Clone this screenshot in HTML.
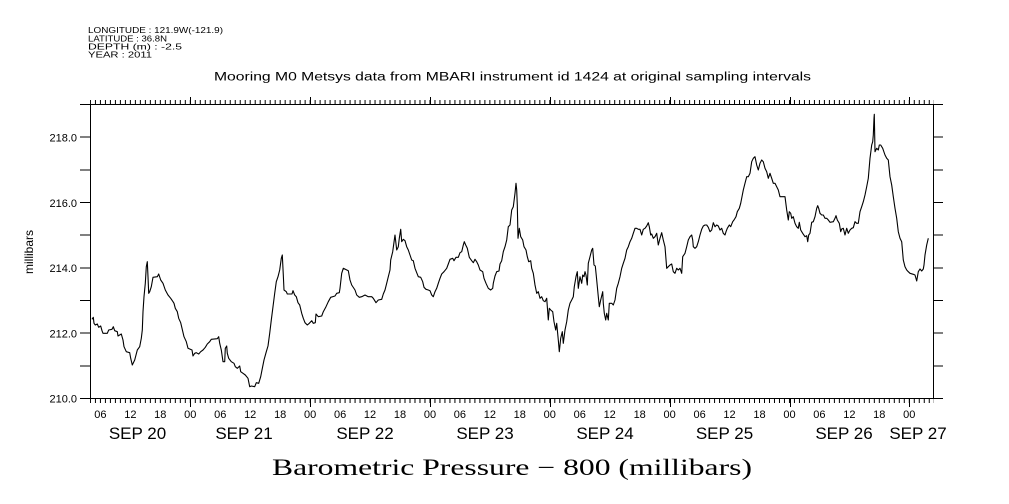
<!DOCTYPE html>
<html>
<head>
<meta charset="utf-8">
<style>
html,body{margin:0;padding:0;background:#fff;}
svg{display:block;}
text{font-family:"Liberation Sans",sans-serif;fill:#000;}
</style>
</head>
<body>
<svg width="1009" height="504" viewBox="0 0 1009 504" xmlns="http://www.w3.org/2000/svg">
<defs>
<pattern id="mt" patternUnits="userSpaceOnUse" x="89.94" y="0" width="4.993" height="504">
<rect x="0" y="0" width="1" height="504" fill="#000"/>
</pattern>
</defs>
<rect width="1009" height="504" fill="#fff"/>

<!-- header -->
<g font-size="8.5">
<text x="88" y="33" textLength="135" lengthAdjust="spacingAndGlyphs">LONGITUDE : 121.9W(-121.9)</text>
<text x="88" y="41.5" textLength="79" lengthAdjust="spacingAndGlyphs">LATITUDE : 36.8N</text>
<text x="88" y="49.5" textLength="94" lengthAdjust="spacingAndGlyphs">DEPTH (m) : -2.5</text>
<text x="88" y="57.5" textLength="64" lengthAdjust="spacingAndGlyphs">YEAR : 2011</text>
</g>
<text x="214" y="80.5" font-size="11.5" textLength="597" lengthAdjust="spacingAndGlyphs">Mooring M0 Metsys data from MBARI instrument id 1424 at original sampling intervals</text>

<!-- minor ticks -->
<rect x="90" y="100" width="844" height="4" fill="url(#mt)"/>
<rect x="90" y="399" width="844" height="4" fill="url(#mt)"/>

<g stroke="#000" stroke-width="1" fill="none" shape-rendering="crispEdges">
<!-- box -->
<path d="M80 104.5H933.5V398.5H80M90.5 104.5V398.5"/>
<!-- y ticks left and right -->
<path d="M80 398.5H90M80 365.8H90M80 333.2H90M80 300.5H90M80 267.8H90M80 235.2H90M80 202.5H90M80 169.8H90M80 137.2H90M80 104.5H90"/>
<path d="M933 398.5H943M933 365.8H943M933 333.2H943M933 300.5H943M933 267.8H943M933 235.2H943M933 202.5H943M933 169.8H943M933 137.2H943M933 104.5H943"/>
<!-- major day ticks -->
<path d="M190.5 97V104M310.5 97V104M430.5 97V104M550.5 97V104M670.5 97V104M790.5 97V104M909.5 97V104"/>
<path d="M190.5 398V407M310.5 398V407M430.5 398V407M550.5 398V407M670.5 398V407M790.5 398V407M909.5 398V407"/>
</g>

<!-- y labels -->
<g font-size="11" text-anchor="end">
<text x="77" y="141.5">218.0</text>
<text x="77" y="206.8">216.0</text>
<text x="77" y="272.1">214.0</text>
<text x="77" y="337.4">212.0</text>
<text x="77" y="402.7">210.0</text>
</g>
<text transform="translate(33,252) rotate(-90)" font-size="12" text-anchor="middle">millibars</text>

<!-- hour labels -->
<g font-size="11" text-anchor="middle">
<text x="100.4" y="418">06</text><text x="130.4" y="418">12</text><text x="160.3" y="418">18</text><text x="190.3" y="418">00</text>
<text x="220.3" y="418">06</text><text x="250.2" y="418">12</text><text x="280.2" y="418">18</text><text x="310.1" y="418">00</text>
<text x="340.1" y="418">06</text><text x="370.0" y="418">12</text><text x="400.0" y="418">18</text><text x="430.0" y="418">00</text>
<text x="459.9" y="418">06</text><text x="489.9" y="418">12</text><text x="519.8" y="418">18</text><text x="549.8" y="418">00</text>
<text x="579.8" y="418">06</text><text x="609.7" y="418">12</text><text x="639.7" y="418">18</text><text x="669.6" y="418">00</text>
<text x="699.6" y="418">06</text><text x="729.5" y="418">12</text><text x="759.5" y="418">18</text><text x="789.5" y="418">00</text>
<text x="819.4" y="418">06</text><text x="849.4" y="418">12</text><text x="879.3" y="418">18</text><text x="909.3" y="418">00</text>
</g>
<!-- day labels -->
<g font-size="17" text-anchor="middle">
<text x="137.5" y="439">SEP 20</text>
<text x="244" y="439">SEP 21</text>
<text x="365" y="439">SEP 22</text>
<text x="485" y="439">SEP 23</text>
<text x="605" y="439">SEP 24</text>
<text x="724.5" y="439">SEP 25</text>
<text x="844" y="439">SEP 26</text>
<text x="918" y="439">SEP 27</text>
</g>

<text x="272" y="475" font-size="23" textLength="480" lengthAdjust="spacingAndGlyphs" style="font-family:'Liberation Serif',serif">Barometric Pressure − 800 (millibars)</text>

<!-- data -->
<polyline fill="none" stroke="#000" stroke-width="1.1" stroke-linejoin="round" points="
92.0,319.3 93.3,317.3 94.0,323.3 95.3,325.0 97.3,324.0 98.7,327.3 100.7,326.0 102.0,330.7 103.0,333.3 107.3,333.3 108.7,330.0 112.0,329.3 113.3,326.7 114.7,330.7 117.3,331.7 118.0,336.0 121.3,334.0 123.0,340.0 124.0,346.7 126.3,351.7 129.7,352.7 130.7,358.3 132.3,365.0 134.7,360.0 137.3,350.0 139.7,346.7 141.3,338.3 142.3,330.0 143.0,311.7 144.0,296.7 145.3,283.3 146.3,266.7 147.3,261.7 148.0,276.7 148.7,293.3 149.7,291.7 151.3,286.7 153.0,277.3 157.3,276.7 158.7,274.0 160.7,280.0 163.0,283.3 165.3,290.0 168.0,295.0 170.7,298.3 173.0,301.7 174.0,303.3 175.3,308.3 177.3,311.7 178.7,318.3 180.7,322.7 182.0,328.3 184.0,336.7 186.3,341.7 188.0,348.3 192.0,350.0 193.0,356.0 194.7,353.3 196.3,352.7 198.7,354.0 200.7,351.7 203.0,350.0 205.3,347.3 207.3,344.0 209.7,341.7 211.3,339.3 217.3,338.7 218.7,336.7 219.7,343.3 221.3,350.0 223.0,361.7 224.7,361.7 225.3,348.3 226.7,346.0 227.3,353.3 228.7,358.3 231.3,361.7 234.0,363.3 235.3,366.7 237.3,368.3 239.7,366.0 240.7,371.7 243.0,373.3 245.3,375.0 248.0,378.3 249.7,386.7 251.3,386.0 254.7,386.7 256.3,382.7 258.7,383.3 260.7,376.7 262.0,370.0 264.0,360.0 266.3,351.7 268.0,346.0 269.7,333.3 271.3,320.0 273.0,306.7 274.7,293.3 276.3,281.7 278.0,276.7 279.7,270.0 281.3,258.3 282.3,255.0 283.3,275.0 284.0,290.0 286.3,291.7 287.3,294.0 292.0,294.0 293.0,290.7 294.7,295.0 296.3,296.7 298.0,302.7 299.7,305.0
301.7,313.3 303.3,318.3 305.0,322.7 307.3,325.0 309.3,323.3 311.7,320.7 313.3,323.3 315.3,322.7 316.0,314.0 318.3,316.7 321.7,316.0 323.3,311.7 326.0,306.7 328.3,301.7 330.7,297.3 335.0,296.0 336.7,293.3 339.3,292.7 340.0,288.3 341.7,273.3 343.3,268.3 348.3,270.7 350.0,280.0 351.7,285.0 355.0,290.0 356.7,295.0 359.3,297.3 361.7,296.7 365.0,295.0 368.3,296.7 371.7,296.7 373.3,298.3 376.0,302.7 378.3,300.0 381.7,299.3 383.3,294.0 385.0,290.0 386.7,283.3 388.3,276.7 390.0,270.0 390.7,260.0 392.7,251.7 394.3,240.0 395.0,235.0 396.7,250.0 398.3,246.7 399.3,238.3 400.7,229.3 401.7,241.7 403.3,239.3 405.0,240.7 406.7,246.7 408.3,250.0 410.0,255.0 411.7,260.0 413.3,260.7 415.0,268.3 416.7,272.7 418.3,276.7 420.7,277.3 422.7,281.7 424.0,287.3 426.0,289.3 428.3,290.0 430.0,290.7 431.7,295.0 433.3,296.7 435.0,291.7 436.7,288.3 438.3,283.3 440.0,278.3 441.7,274.0 444.0,271.7 446.7,268.3 448.3,264.0 450.0,259.3 452.7,258.3 454.0,260.7 456.0,257.3 458.3,257.3 460.0,252.7 461.7,251.7 463.3,245.0 464.3,241.7 465.7,245.0 467.3,248.3 469.3,257.3 471.7,260.7 473.3,262.7 475.0,259.3 476.7,261.7 478.3,265.0 480.0,270.0 482.7,271.7 484.0,278.3 486.0,283.3 488.3,288.3 490.7,290.0 492.7,288.3 493.3,283.3 495.0,276.0 496.7,271.7 499.0,271.0 500.0,264.0 501.7,260.7 503.3,251.7 505.0,246.7 506.7,240.0 508.3,226.7
510.0,225.0 511.7,210.0 513.3,206.7 515.0,193.3 516.0,183.3 516.7,190.0 517.3,205.0 518.0,238.3 519.3,228.3 520.7,236.7 522.7,240.0 524.0,246.7 526.0,250.0 527.3,256.7 528.7,261.7 530.7,260.7 531.7,268.3 533.3,273.3 535.0,285.0 536.7,293.3 538.3,291.7 540.0,298.3 541.7,296.7 543.3,300.7 545.0,301.7 546.7,298.3 548.3,320.0 549.3,308.3 550.7,310.0 552.7,311.7 554.0,321.7 555.7,330.0 556.7,323.3 558.3,340.0 559.3,351.7 560.7,338.3 562.3,331.7 563.3,343.3 565.0,330.0 566.7,321.7 568.3,310.0 570.0,303.3 571.7,300.0 573.3,296.7 574.3,286.7 576.0,276.7 577.3,271.7 578.3,288.3 580.0,276.7 581.7,283.3 582.7,275.0 584.0,276.7 585.0,271.7 586.0,275.0 587.3,285.0 588.3,263.3 590.0,256.7 591.7,250.0 592.7,248.3 594.0,265.0 595.3,266.0 596.7,280.0 598.3,296.7 599.3,306.7 600.7,300.0 602.7,291.7 603.3,303.3 604.3,313.3 605.7,320.0 606.7,313.3 608.3,320.0 609.3,303.3 611.7,303.3 613.3,305.0 615.0,300.0 616.7,288.3 618.3,283.3 620.0,276.7 621.7,268.3 623.3,263.3 625.0,258.3 626.7,250.0 628.3,246.7 630.0,241.7 631.7,238.3 633.3,233.3 635.0,228.3 636.7,228.3 638.3,229.3 640.0,229.3 641.7,235.0 643.3,229.3 645.0,228.3 646.7,226.0 648.3,222.7 649.3,226.7 650.7,235.0 651.7,234.0 653.3,238.3 655.0,236.7 656.7,233.3 658.3,245.0 660.0,238.3 661.7,232.7 663.3,240.0 665.0,246.7 666.7,268.3 668.3,266.7 670.0,265.0 671.7,264.0 673.3,271.7 675.0,273.3 676.7,268.3 678.3,270.0 680.0,268.3 681.7,273.3 682.7,256.7 685.0,253.3 686.7,246.7 688.3,240.0 690.0,236.7 691.7,235.0 692.7,240.0 693.3,246.7 695.0,248.3 696.7,246.7 698.3,241.7 700.0,235.0 701.7,229.3 703.3,226.0 705.0,225.0 706.7,225.0 708.3,227.3 710.0,231.7 711.7,230.0 713.3,222.7 715.0,226.7 716.7,225.0 718.3,226.0
720.0,230.0 721.7,228.3 723.3,233.3 725.0,235.0 726.0,231.7 727.3,228.3 729.3,225.0 730.7,226.7 732.7,221.7 734.0,220.0 736.0,216.7 737.3,211.7 739.3,208.3 740.7,203.3 742.0,196.7 743.3,190.0 745.0,183.3 746.7,176.7 748.3,176.7 750.0,173.3 751.7,161.7 753.3,158.3 755.0,156.7 756.7,165.0 758.3,170.0 760.0,163.3 761.7,160.0 763.3,161.7 765.0,168.3 766.7,171.7 768.3,178.3 770.0,173.3 771.7,178.3 773.3,183.3 775.0,183.3 776.7,186.7 778.3,190.0 780.0,196.7 785.0,196.7 786.7,210.0 788.3,220.0 789.3,211.7 790.7,213.3 791.7,218.3 793.3,216.7 795.0,223.3 796.7,226.7 798.3,228.3 799.3,222.3 800.7,230.0 802.7,233.3 805.0,236.7 806.7,235.7 807.7,241.7 808.7,235.0 810.0,233.3 811.7,222.3 813.3,221.7 815.0,216.7 816.7,208.3 817.7,205.7 818.7,208.3 820.0,213.3 821.7,215.0 823.3,215.0 825.0,218.3 826.7,218.3 828.3,220.0 830.0,222.3 833.3,221.7 835.0,218.3 836.0,215.7 837.3,220.0 839.3,223.3 840.7,231.7 841.7,229.0 843.3,228.3 845.0,235.0 846.7,228.3 848.3,233.3 850.0,230.0 851.7,228.3 853.3,227.7 855.0,221.7 856.7,223.3 858.3,223.3 860.0,211.7 861.7,206.7 863.3,201.7 865.0,195.0 866.7,186.7 868.3,178.3 870.0,158.3 871.7,145.0 872.7,141.7 873.3,135.0 874.0,118.3 874.3,114.3 875.0,151.7 876.7,148.3 878.3,150.0 879.3,145.0 880.7,145.0 882.7,148.3 885.0,155.0 886.7,158.3 888.3,160.0 890.0,176.7 891.7,185.0 893.3,196.7 895.0,208.3 896.7,218.3 898.3,231.7 900.0,238.3 901.7,241.7 903.3,260.0 905.0,266.7 906.7,270.0 908.3,271.7 910.0,273.3 913.3,274.3 915.0,275.0 916.7,281.0 918.3,271.7 920.0,269.0 921.7,271.0 923.3,269.0 924.0,265.0 925.0,255.0 926.7,245.0 928.3,238.3"/>
</svg>
</body>
</html>
